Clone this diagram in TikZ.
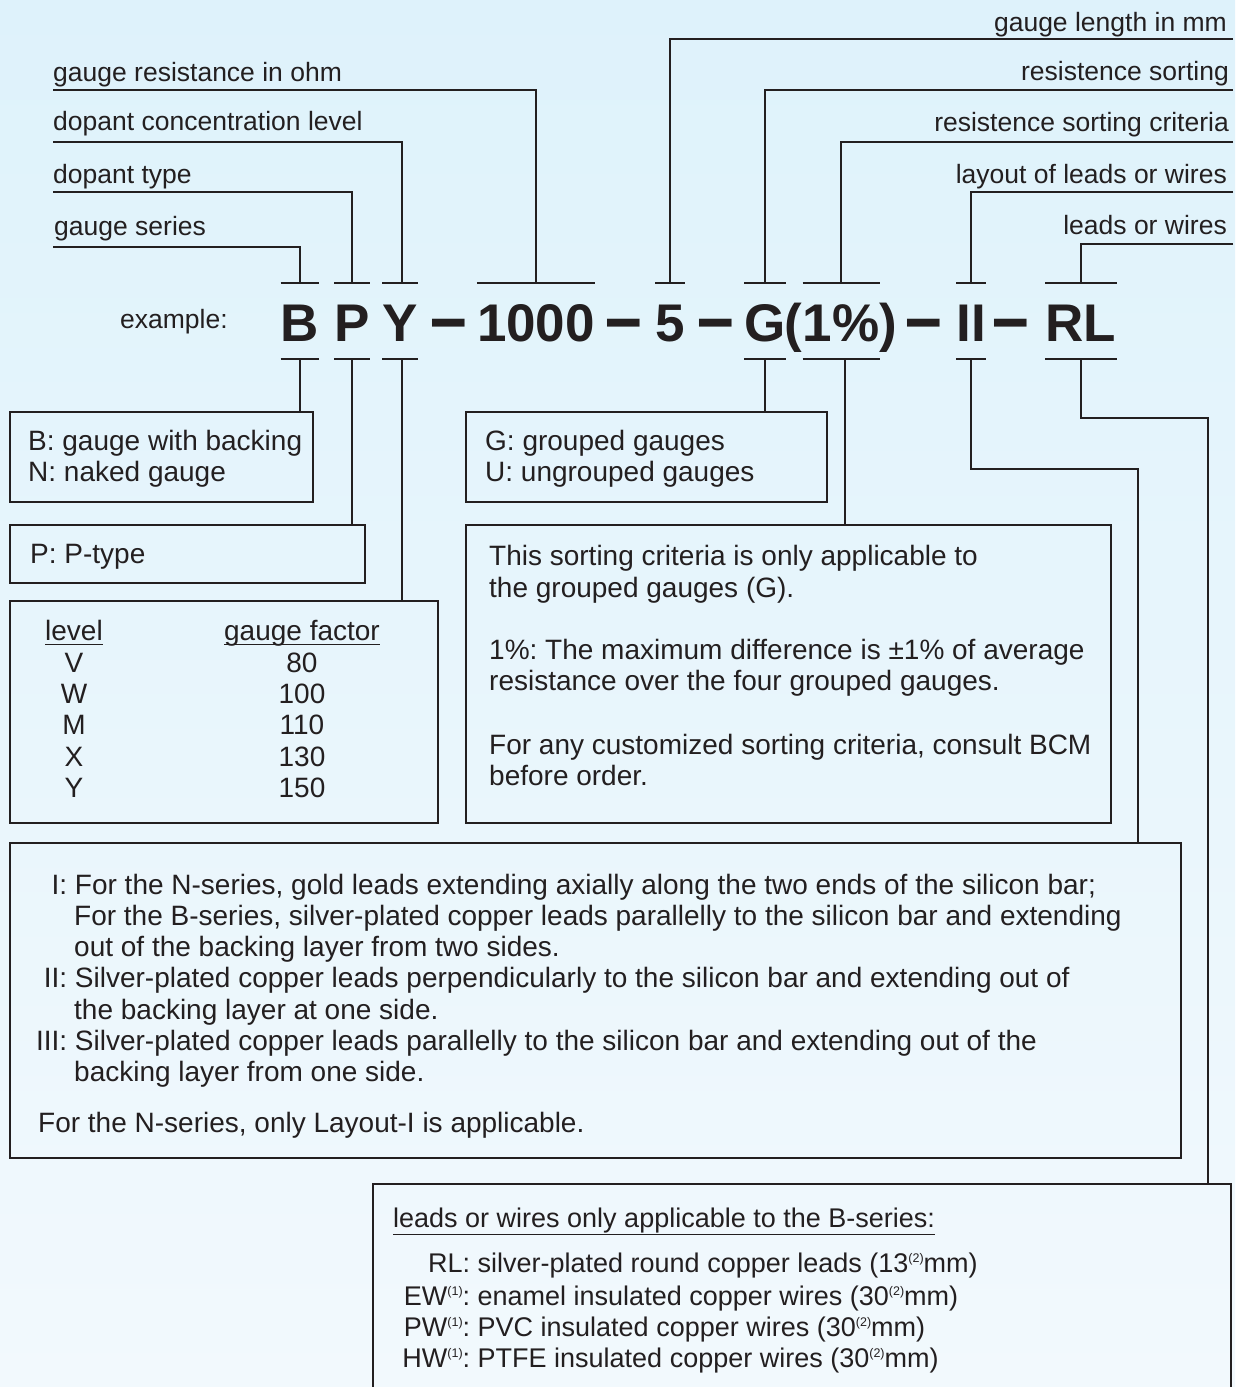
\documentclass[tikz,border=0pt]{standalone}
\usepackage{fontspec}
\setmainfont{Liberation Sans}
\usetikzlibrary{calc}
\definecolor{ink}{RGB}{35,31,32}
\definecolor{bgtop}{RGB}{222,242,251}
\definecolor{bgbot}{RGB}{242,249,253}
\frenchspacing
\newsavebox\ulbox
\newcommand{\ulx}[1]{\sbox\ulbox{#1}\rlap{\rule[-5pt]{\wd\ulbox}{1.4pt}}\usebox\ulbox}
\newcommand{\ulthin}[1]{\sbox\ulbox{#1}\rlap{\rule[-8pt]{\wd\ulbox}{0.9pt}}\usebox\ulbox}
\newcommand{\supn}[1]{\raisebox{9.5pt}{\fontsize{12.5}{12.5}\selectfont(#1)}}
\newcommand{\dashg}{\raisebox{-3pt}{\scalebox{1.24}[1.5]{--}}}
\begin{document}
\begin{tikzpicture}[x=1pt,y=-1pt,
  lead/.style={draw=ink, line width=2pt},
  boxl/.style={draw=ink, line width=2.4pt, inner sep=0pt, anchor=north west},
  lab/.style={inner sep=0pt, text=ink, font=\fontsize{26.5}{30}\selectfont},
  txt/.style={inner sep=0pt, text=ink, font=\fontsize{28}{31}\selectfont, anchor=base west},
  txtb/.style={inner sep=0pt, text=ink, font=\fontsize{27}{31}\selectfont, anchor=base west},
  code/.style={inner sep=0pt, text=ink, font=\fontsize{53}{60}\selectfont\bfseries, anchor=base},
]
\fill[top color=bgtop, bottom color=bgbot] (0,0) rectangle (1235,1387);
\useasboundingbox (0,0) rectangle (1235,1387);
\clip (0,0) rectangle (1235,1387);

% helper levels
\coordinate (tt) at (0,283);
\coordinate (tb) at (0,359);
\coordinate (redge) at (1233,0);

% labels left
\node[lab, anchor=base west] (lres) at (53,81) {gauge resistance in ohm};
\node[lab, anchor=base west] (ldop) at (53,130) {dopant concentration level};
\node[lab, anchor=base west] (ltype) at (53,183) {dopant type};
\node[lab, anchor=base west] (lser) at (54,235) {gauge series};
% labels right
\node[lab, anchor=base east] (rlen) at (1227,31) {gauge length in mm};
\node[lab, anchor=base east] (rsort) at (1229,80) {resistence sorting};
\node[lab, anchor=base east] (rcrit) at (1229,131) {resistence sorting criteria};
\node[lab, anchor=base east] (rlay) at (1227,183) {layout of leads or wires};
\node[lab, anchor=base east] (rlw) at (1227,234) {leads or wires};

% example row
\node[lab, anchor=base west] (ex) at (120,328) {example:};
\node[code] (cB) at (300,341) {B};
\node[code] (cP) at (352,341) {P};
\node[code] (cY) at (400,341) {Y};
\node[code] (d1) at (449,341) {\dashg};
\node[code] (c1000) at (536,341) {1000};
\node[code] (d2) at (624,341) {\dashg};
\node[code] (c5) at (670,341) {5};
\node[code] (d3) at (716,341) {\dashg};
\node[code] (cG) at (765,341) {G};
\node[code] (lp) at (793,341) {(};
\node[code] (cpct) at (841,341) {1\%};
\node[code] (rp) at (888,341) {)};
\node[code] (d4) at (924,341) {\dashg};
\node[code] (cII) at (971,341) {II};
\node[code] (d5) at (1011,341) {\dashg};
\node[code] (cRL) at (1081,341) {RL};

% ticks
\foreach \n in {cB,cP,cY,c1000,c5,cG,cpct,cII,cRL}
  \draw[lead] (\n.west |- tt) -- (\n.east |- tt);
\foreach \n in {cB,cP,cY,cG,cpct,cII,cRL}
  \draw[lead] (\n.west |- tb) -- (\n.east |- tb);

% upper connectors
\draw[lead] (lres.west |- 0,90) -| (c1000.center |- tt);
\draw[lead] (ldop.west |- 0,142) -| ([xshift=2pt]cY.center |- tt);
\draw[lead] (ltype.west |- 0,192) -| (cP.center |- tt);
\draw[lead] (lres.west |- 0,247) -| (cB.center |- tt);
\draw[lead] (redge |- 0,39) -| (c5.center |- tt);
\draw[lead] (redge |- 0,90) -| (cG.center |- tt);
\draw[lead] (redge |- 0,142) -| (cpct.center |- tt);
\draw[lead] (redge |- 0,192) -| (cII.center |- tt);
\draw[lead] (redge |- 0,244) -| (cRL.center |- tt);

% boxes
\node[boxl, minimum width=303pt, minimum height=90pt] (bbox) at (9,411) {};
\node[boxl, minimum width=355pt, minimum height=58pt] (pbox) at (9,524) {};
\node[boxl, minimum width=428pt, minimum height=222pt] (lvbox) at (9,600) {};
\node[boxl, minimum width=361pt, minimum height=90pt] (gbox) at (465,411) {};
\node[boxl, minimum width=645pt, minimum height=298pt] (crbox) at (465,524) {};
\node[boxl, minimum width=1171pt, minimum height=315pt] (laybox) at (9,842) {};
\node[boxl, minimum width=858pt, minimum height=260pt] (wbox) at (372,1183) {};

% lower connectors
\draw[lead] (cB.center |- tb) -- (cB.center |- bbox.north);
\draw[lead] (cP.center |- tb) -- (cP.center |- pbox.north);
\draw[lead] ([xshift=2pt]cY.center |- tb) -- ([xshift=2pt]cY.center |- lvbox.north);
\draw[lead] (cG.center |- tb) -- (cG.center |- gbox.north);
\draw[lead] ([xshift=4pt]cpct.center |- tb) -- ([xshift=4pt]cpct.center |- crbox.north);
\coordinate (k1) at (1138,469);
\draw[lead] (cII.center |- tb) |- (k1) -- (k1 |- laybox.north);
\coordinate (k2) at (1208,418);
\draw[lead] (cRL.center |- tb) |- (k2) -- (k2 |- wbox.north);

% box texts
\node[txt] (tb1) at (28,450) {B: gauge with backing};
\node[txt] (tb2) at (28,481) {N: naked gauge};
\node[txt] (tp1) at (30,563) {P: P-type};

\node[txt, anchor=base] (th1) at (74,640) {\ulx{level}};
\node[txt, anchor=base] (th2) at (302,640) {\ulx{gauge factor}};
\node[txt, anchor=base] (tl1) at (74,672) {V};
\node[txt, anchor=base] (tl2) at (74,703) {W};
\node[txt, anchor=base] (tl3) at (74,734) {M};
\node[txt, anchor=base] (tl4) at (74,766) {X};
\node[txt, anchor=base] (tl5) at (74,797) {Y};
\node[txt, anchor=base] (tf1) at (302,672) {80};
\node[txt, anchor=base] (tf2) at (302,703) {100};
\node[txt, anchor=base] (tf3) at (302,734) {110};
\node[txt, anchor=base] (tf4) at (302,766) {130};
\node[txt, anchor=base] (tf5) at (302,797) {150};

\node[txt] (tg1) at (485,450) {G: grouped gauges};
\node[txt] (tg2) at (485,481) {U: ungrouped gauges};

\node[txt] (tc1) at (489,565) {This sorting criteria is only applicable to};
\node[txt] (tc2) at (489,597) {the grouped gauges (G).};
\node[txt] (tc3) at (489,659) {1\%: The maximum difference is ±1\% of average};
\node[txt] (tc4) at (489,690) {resistance over the four grouped gauges.};
\node[txt] (tc5) at (489,754) {For any customized sorting criteria, consult BCM};
\node[txt] (tc6) at (489,785) {before order.};

\node[txt] (ty1) at (35,894) {\makebox[32pt][r]{I:} For the N-series, gold leads extending axially along the two ends of the silicon bar;};
\node[txt] (ty2) at (74,925) {For the B-series, silver-plated copper leads parallelly to the silicon bar and extending};
\node[txt] (ty3) at (74,956) {out of the backing layer from two sides.};
\node[txt] (ty4) at (35,987) {\makebox[32pt][r]{II:} Silver-plated copper leads perpendicularly to the silicon bar and extending out of};
\node[txt] (ty5) at (74,1019) {the backing layer at one side.};
\node[txt] (ty6) at (35,1050) {\makebox[32pt][r]{III:} Silver-plated copper leads parallelly to the silicon bar and extending out of the};
\node[txt] (ty7) at (74,1081) {backing layer from one side.};
\node[txt] (ty8) at (38,1132) {For the N-series, only Layout-I is applicable.};

\node[txtb] (tw0) at (393,1227) {\ulthin{leads or wires only applicable to the B-series:}};
\node[txtb] (tw1) at (392,1272) {\makebox[78pt][r]{RL:} silver-plated round copper leads (13\supn{2}mm)};
\node[txtb] (tw2) at (392,1305) {\makebox[78pt][r]{EW\supn{1}:} enamel insulated copper wires (30\supn{2}mm)};
\node[txtb] (tw3) at (392,1336) {\makebox[78pt][r]{PW\supn{1}:} PVC insulated copper wires (30\supn{2}mm)};
\node[txtb] (tw4) at (392,1367) {\makebox[78pt][r]{HW\supn{1}:} PTFE insulated copper wires (30\supn{2}mm)};
\end{tikzpicture}
\end{document}
